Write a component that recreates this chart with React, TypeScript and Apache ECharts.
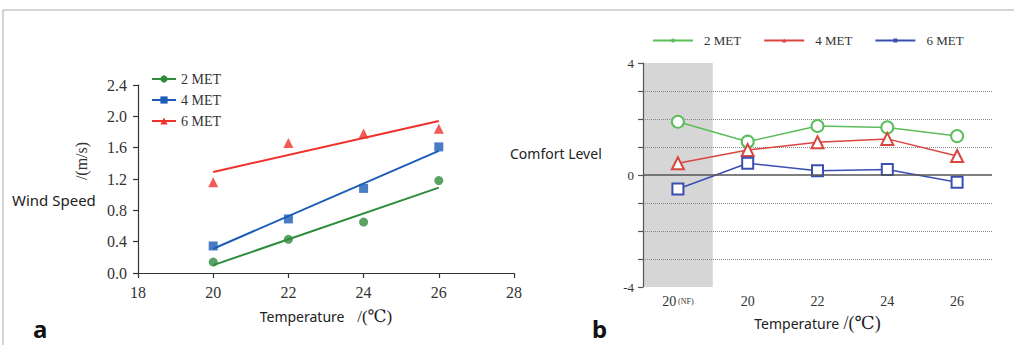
import React, { useEffect, useRef } from 'react';
import * as echarts from 'echarts';

// ---- Chart a: wind speed vs temperature ----
const tempsA = [20, 22, 24, 26];
const met2Wind = [0.14, 0.43, 0.65, 1.18];
const met4Wind = [0.345, 0.69, 1.08, 1.61];
const met6Wind = [1.16, 1.66, 1.78, 1.84];
// fitted trend lines (read endpoints)
const fitX = [20, 26];
const met2Fit = [0.1, 1.09];
const met4Fit = [0.31, 1.56];
const met6Fit = [1.29, 1.94];

// ---- Chart b: comfort level vs temperature ----
const catsB = ['20(NF)', '20', '22', '24', '26'];
const met2Comfort = [1.9, 1.19, 1.75, 1.7, 1.39];
const met4Comfort = [0.42, 0.89, 1.17, 1.29, 0.68];
const met6Comfort = [-0.5, 0.42, 0.15, 0.2, -0.26];
const shadeUp = [4, '-', '-', '-', '-'];
const shadeDown = [-4, '-', '-', '-', '-'];
const comfortTickLabels = [4, 0, -4];

const SERIF = '"Liberation Serif", "DejaVu Serif", serif';
const SANS = '"Noto Sans", "Open Sans", sans-serif';

const A_GREEN = '#2e8c3c';
const A_BLUE = '#1d5bb8';
const A_RED = '#f0302a';
const B_GREEN = '#5bbd5b';
const B_RED = '#d9453f';
const B_BLUE = '#3a4fb2';

export default function App() {
  const ref = useRef<HTMLDivElement>(null);
  useEffect(() => {
    const chart = echarts.init(ref.current!, null, { renderer: 'svg' });
    const pair = (xs: number[], ys: number[]) => xs.map((x, i) => [x, ys[i]]);
    const axisA = { lineStyle: { color: '#333', width: 1.2 } };
    const fitLine = (name: string, ys: number[], color: string, symbol: string) => ({
      name, type: 'line', xAxisIndex: 0, yAxisIndex: 0, data: pair(fitX, ys),
      symbol, showSymbol: false, color, lineStyle: { color, width: 2 }, silent: true,
    });
    const scat = (name: string, ys: number[], color: string, symbol: string, size: number) => ({
      name, type: 'scatter', xAxisIndex: 0, yAxisIndex: 0, data: pair(tempsA, ys),
      symbol, symbolSize: size, itemStyle: { color },
    });
    // legend-only carrier for chart b (small filled marker on the legend line)
    const legendB = (name: string, color: string, symbol: string) => ({
      name, type: 'line', xAxisIndex: 1, yAxisIndex: 1, data: [], symbol, symbolSize: 4,
      color, lineStyle: { color, width: 2 }, itemStyle: { color },
    });
    const lineB = (name: string, ys: number[], color: string, symbol: string, size: number, extra: any = {}) => ({
      name, type: 'line', xAxisIndex: 1, yAxisIndex: 1, data: ys, symbol, symbolSize: size,
      color, lineStyle: { color, width: 1.5 }, itemStyle: { color, borderWidth: 1.5 }, z: 3, ...extra,
    });
    const gridColors = ['rgba(0,0,0,0)', '#888', '#888', '#888', 'rgba(0,0,0,0)', '#888', '#888', '#888', 'rgba(0,0,0,0)'];

    chart.setOption({
      animation: false,
      backgroundColor: '#fff',
      grid: [
        { left: 138, top: 85, width: 376, height: 188 },
        { left: 643, top: 63, width: 349, height: 224 },
      ],
      legend: [
        {
          data: ['a:2 MET', 'a:4 MET', 'a:6 MET'], orient: 'vertical', left: 146, top: 67,
          itemWidth: 24, itemHeight: 9, itemGap: 7, formatter: (n: string) => n.slice(2),
          textStyle: { fontFamily: SERIF, fontSize: 14, color: '#333' }, selectedMode: false,
        },
        {
          data: ['b:2 MET', 'b:4 MET', 'b:6 MET'], orient: 'horizontal', left: 647, top: 29,
          itemWidth: 40, itemHeight: 5, itemGap: 22, formatter: (n: string) => n.slice(2),
          textStyle: { fontFamily: SERIF, fontSize: 13, color: '#333', padding: [0, 0, 0, 6] }, selectedMode: false,
        },
      ],
      xAxis: [
        {
          type: 'value', gridIndex: 0, min: 18, max: 28, interval: 2,
          axisLine: axisA, axisTick: { show: true, length: 5, lineStyle: axisA.lineStyle },
          axisLabel: { fontFamily: SERIF, fontSize: 16, color: '#333', margin: 11 },
          splitLine: { show: false },
          name: '{t|Temperature}{u|   /(℃)}', nameLocation: 'middle', nameGap: 35,
          nameTextStyle: { rich: { t: { fontFamily: SANS, fontSize: 14, color: '#222' }, u: { fontFamily: SERIF, fontSize: 17, color: '#222' } } },
        },
        {
          type: 'category', gridIndex: 1, data: catsB, boundaryGap: true,
          axisLine: { show: false }, axisTick: { show: false },
          axisLabel: {
            interval: 0, margin: 7, fontFamily: SERIF, fontSize: 14, color: '#333',
            formatter: (v: string) => (v === '20(NF)' ? '{m|20}{s| (NF)}' : v),
            rich: { m: { fontFamily: SERIF, fontSize: 14, color: '#333' }, s: { fontFamily: SERIF, fontSize: 8, color: '#333' } },
          },
          name: '{t|Temperature}{u| /(℃)}', nameLocation: 'middle', nameGap: 27,
          nameTextStyle: { rich: { t: { fontFamily: SANS, fontSize: 14, color: '#222' }, u: { fontFamily: SERIF, fontSize: 18, color: '#222' } } },
        },
      ],
      yAxis: [
        {
          type: 'value', gridIndex: 0, min: 0, max: 2.4, interval: 0.4,
          axisLine: { show: true, ...axisA }, axisTick: { show: true, length: 5, lineStyle: axisA.lineStyle },
          axisLabel: { fontFamily: SERIF, fontSize: 16, color: '#333', margin: 11, formatter: (v: number) => v.toFixed(1) },
          splitLine: { show: false },
        },
        {
          type: 'value', gridIndex: 1, min: -4, max: 4, interval: 1,
          axisLine: { show: true, lineStyle: { color: '#555', width: 1.2 } },
          axisTick: { show: true, length: 5, lineStyle: { color: '#555', width: 1.2 } },
          axisLabel: {
            fontFamily: SERIF, fontSize: 13, color: '#333', margin: 9,
            formatter: (v: number) => (comfortTickLabels.indexOf(v) >= 0 ? String(v) : ''),
          },
          splitLine: { show: true, lineStyle: { color: gridColors, type: 'dotted', width: 1 } },
        },
      ],
      series: [
        fitLine('a:2 MET', met2Fit, A_GREEN, 'circle'),
        fitLine('a:4 MET', met4Fit, A_BLUE, 'rect'),
        fitLine('a:6 MET', met6Fit, A_RED, 'triangle'),
        scat('a:2 MET', met2Wind, A_GREEN, 'circle', 9),
        scat('a:4 MET', met4Wind, A_BLUE, 'rect', 9),
        scat('a:6 MET', met6Wind, A_RED, 'triangle', 10),
        legendB('b:2 MET', B_GREEN, 'circle'),
        legendB('b:4 MET', B_RED, 'triangle'),
        legendB('b:6 MET', B_BLUE, 'rect'),
        {
          name: 'shadeUp', type: 'bar', xAxisIndex: 1, yAxisIndex: 1, stack: 'shade', data: shadeUp,
          barWidth: '100%', itemStyle: { color: '#d6d6d6' }, silent: true, z: -1,
        },
        {
          name: 'shadeDown', type: 'bar', xAxisIndex: 1, yAxisIndex: 1, stack: 'shade', data: shadeDown,
          barWidth: '100%', itemStyle: { color: '#d6d6d6' }, silent: true, z: -1,
        },
        lineB('b:2 MET', met2Comfort, B_GREEN, 'emptyCircle', 12, {
          markLine: {
            silent: true, symbol: 'none', label: { show: false },
            lineStyle: { color: '#555', type: 'solid', width: 1.5 },
            data: [{ yAxis: 0 }],
          },
        }),
        lineB('b:4 MET', met4Comfort, B_RED, 'emptyTriangle', 12),
        lineB('b:6 MET', met6Comfort, B_BLUE, 'emptyRect', 11),
      ],
      graphic: [
        { type: 'line', shape: { x1: 3, y1: 10, x2: 1014, y2: 10 }, style: { stroke: '#aaa', lineWidth: 1 }, silent: true },
        { type: 'line', shape: { x1: 3, y1: 10, x2: 3, y2: 345 }, style: { stroke: '#aaa', lineWidth: 1 }, silent: true },
        { type: 'text', x: 12, y: 200, style: { text: 'Wind Speed', fontFamily: SANS, fontSize: 15, fill: '#222', align: 'left', verticalAlign: 'middle' } },
        { type: 'text', x: 81, y: 161, rotation: Math.PI / 2, style: { text: '/(m/s)', fontFamily: SERIF, fontSize: 16, fill: '#333', align: 'center', verticalAlign: 'middle' } },
        { type: 'text', x: 510, y: 153, style: { text: 'Comfort Level', fontFamily: SANS, fontSize: 14, fill: '#222', align: 'left', verticalAlign: 'middle' } },
        { type: 'text', x: 33, y: 328, style: { text: 'a', fontFamily: SANS, fontSize: 24, fontWeight: 'bold', fill: '#111', align: 'left', verticalAlign: 'middle' } },
        { type: 'text', x: 592, y: 328, style: { text: 'b', fontFamily: SANS, fontSize: 24, fontWeight: 'bold', fill: '#111', align: 'left', verticalAlign: 'middle' } },
      ],
    });
    return () => chart.dispose();
  }, []);
  return <div ref={ref} style={{ position: 'fixed', left: 0, top: 0, width: 1014, height: 345 }} />;
}
